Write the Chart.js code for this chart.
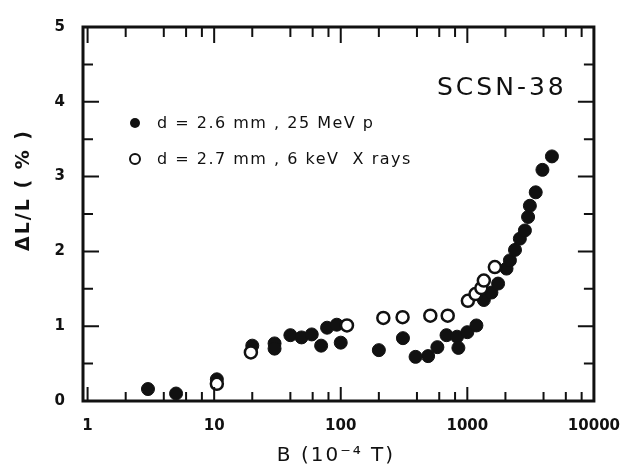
<!DOCTYPE html>
<html>
<head>
<meta charset="utf-8">
<script src="https://cdn.jsdelivr.net/npm/chart.js@4/dist/chart.umd.min.js"></script>
<style>
  html, body { margin: 0; padding: 0; background: #fff; }
  #wrap { width: 636px; height: 466px; }
</style>
</head>
<body>
<div id="wrap"><canvas id="plot" width="636" height="466"></canvas></div>
<script>
// Data: B in units of 1e-4 T, dL/L in %
const protonB = [3, 5, 10.5, 20, 30, 30, 40, 49, 59, 70, 78, 93, 100, 200, 310, 390, 490, 580, 685, 830, 850, 1000, 1180, 1350, 1550, 1750, 2040, 2170, 2380, 2600, 2850, 3020, 3120, 3470, 3920, 4660];
const protonDL = [0.16, 0.10, 0.29, 0.74, 0.77, 0.70, 0.88, 0.85, 0.89, 0.74, 0.98, 1.02, 0.78, 0.68, 0.84, 0.59, 0.60, 0.72, 0.88, 0.86, 0.71, 0.92, 1.01, 1.35, 1.45, 1.57, 1.77, 1.88, 2.02, 2.17, 2.28, 2.46, 2.61, 2.79, 3.09, 3.27];

const xrayB = [10.5, 19.5, 112, 217, 308, 510, 700, 1010, 1160, 1290, 1350, 1650];
const xrayDL = [0.23, 0.65, 1.01, 1.11, 1.12, 1.14, 1.14, 1.34, 1.43, 1.51, 1.61, 1.79];

const xLabels = [1, 10, 100, 1000, 10000];
const yLabels = [0, 1, 2, 3, 4, 5];
const xMinorTicks = [2, 4, 6, 8];

const legendText = ['d = 2.6 mm , 25 MeV p', 'd = 2.7 mm , 6 keV  X rays'];
const sampleName = 'SCSN-38';

const INK = '#111';

// frame, inward ticks, titles and in-plot legend
const decor = {
    id: 'decor',
    afterDraw(chart) {
        const { ctx, chartArea: a, scales: { x, y } } = chart;
        ctx.save();
        ctx.strokeStyle = INK;
        ctx.fillStyle = INK;

        // ticks on all four sides, pointing in
        ctx.lineWidth = 2;
        ctx.beginPath();
        for (let dec = 1; dec <= 10000; dec *= 10) {
            const px = x.getPixelForValue(dec);
            if (px > a.left + 2 && px < a.right - 2) {
                ctx.moveTo(px, a.bottom); ctx.lineTo(px, a.bottom - 14);
                ctx.moveTo(px, a.top); ctx.lineTo(px, a.top + 16);
            }
            if (dec < 10000) {
                xMinorTicks.forEach(m => {
                    const mx = x.getPixelForValue(dec * m);
                    ctx.moveTo(mx, a.bottom); ctx.lineTo(mx, a.bottom - 9);
                    ctx.moveTo(mx, a.top); ctx.lineTo(mx, a.top + 10);
                });
            }
        }
        for (let v = 0.5; v < 5; v += 0.5) {
            const py = y.getPixelForValue(v);
            const len = Number.isInteger(v) ? 16 : 10;
            ctx.moveTo(a.left, py); ctx.lineTo(a.left + len, py);
            ctx.moveTo(a.right, py); ctx.lineTo(a.right - len, py);
        }
        ctx.stroke();

        // frame
        ctx.lineWidth = 3;
        ctx.strokeRect(a.left, a.top, a.right - a.left, a.bottom - a.top);

        // axis titles
        ctx.textAlign = 'center';
        ctx.textBaseline = 'middle';
        ctx.letterSpacing = '2px';
        ctx.font = '20px "DejaVu Sans"';
        ctx.fillText('B (10\u207B\u2074 T)', 336, 456);

        ctx.save();
        ctx.translate(24, 190);
        ctx.rotate(-Math.PI / 2);
        ctx.font = 'bold 19px "DejaVu Sans"';
        ctx.fillText('\u0394L/L ( % )', 0, 0);
        ctx.restore();

        // sample name
        ctx.letterSpacing = '3px';
        ctx.font = '25px "DejaVu Sans"';
        ctx.textAlign = 'left';
        ctx.fillText(sampleName, 437, 88);

        // legend
        ctx.letterSpacing = '1.5px';
        ctx.font = '16px "DejaVu Sans"';
        const rows = [123, 159];
        rows.forEach((ry, i) => {
            ctx.beginPath();
            ctx.arc(135, ry, 5, 0, Math.PI * 2);
            if (i === 0) {
                ctx.fill();
            } else {
                ctx.fillStyle = '#fff';
                ctx.fill();
                ctx.lineWidth = 2;
                ctx.stroke();
                ctx.fillStyle = INK;
            }
            ctx.fillText(legendText[i], 157, ry + 1);
        });
        ctx.restore();
    }
};

const tickFont = { family: 'DejaVu Sans', size: 15, weight: 'bold' };

new Chart(document.getElementById('plot'), {
    type: 'scatter',
    data: {
        datasets: [
            {
                label: legendText[1],
                data: xrayB.map((b, i) => ({ x: b, y: xrayDL[i] })),
                pointStyle: 'circle',
                pointRadius: 6,
                pointBorderWidth: 2.5,
                pointBackgroundColor: '#fff',
                pointBorderColor: INK
            },
            {
                label: legendText[0],
                data: protonB.map((b, i) => ({ x: b, y: protonDL[i] })),
                pointStyle: 'circle',
                pointRadius: 6.5,
                pointBorderWidth: 1,
                pointBackgroundColor: INK,
                pointBorderColor: INK
            }
        ]
    },
    options: {
        responsive: false,
        animation: false,
        layout: { padding: { top: 26, right: 34, left: 0, bottom: 0 } },
        plugins: { legend: { display: false }, tooltip: { enabled: false } },
        scales: {
            x: {
                type: 'logarithmic',
                min: 0.92,
                max: 10000,
                grid: { display: false, drawTicks: false },
                border: { display: false },
                afterFit: s => { s.height = 65; },
                afterBuildTicks: s => { s.ticks = xLabels.map(v => ({ value: v })); },
                ticks: {
                    color: INK,
                    font: tickFont,
                    padding: 16,
                    maxRotation: 0,
                    autoSkip: false,
                    callback: v => String(v)
                }
            },
            y: {
                min: 0,
                max: 5,
                grid: { display: false, drawTicks: false },
                border: { display: false },
                afterFit: s => { s.width = 83; },
                afterBuildTicks: s => { s.ticks = yLabels.map(v => ({ value: v })); },
                ticks: {
                    color: INK,
                    font: tickFont,
                    padding: 18,
                    callback: v => String(v)
                }
            }
        }
    },
    plugins: [decor]
});
</script>
</body>
</html>
